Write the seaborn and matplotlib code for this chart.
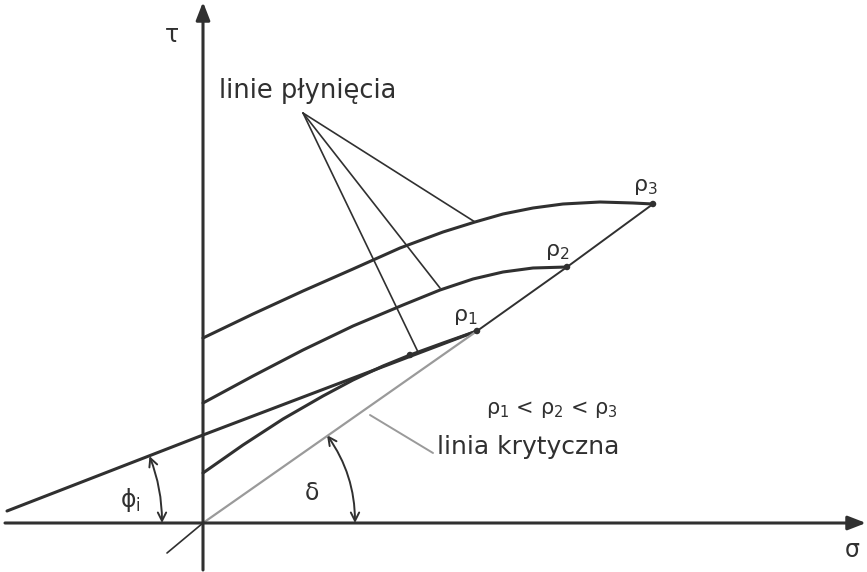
import numpy as np
import pandas as pd
import matplotlib
matplotlib.use("Agg")
import matplotlib.pyplot as plt
from matplotlib.patches import FancyArrowPatch
import seaborn as sns

# Yield loci (sigma, tau) for three bulk densities rho1 < rho2 < rho3
rho1_sigma = [0, 40, 80, 120, 150, 180, 207, 240, 274]
rho1_tau = [50, 78, 104, 127, 143, 157, 168, 180, 192]
rho2_sigma = [0, 50, 100, 150, 200, 237, 270, 300, 330, 364]
rho2_tau = [120, 147, 173, 197, 218, 233, 244, 251, 255, 256]
rho3_sigma = [0, 50, 100, 150, 197, 240, 272, 300, 330, 360, 397, 430, 450]
rho3_tau = [185, 209, 232, 254, 275, 291, 301, 309, 315, 319, 321, 320, 319]

# Effective yield locus (straight line, angle phi_i)
eff_sigma = [-196, 0, 274]
eff_tau = [12, 88, 192]

# End points of the loci lying on the critical line
end_sigma = [274, 364, 450]
end_tau = [192, 256, 319]
tangent_sigma = [207]
tangent_tau = [168]

# Labels
rho_labels = ["ρ$_\\mathregular{1}$", "ρ$_\\mathregular{2}$", "ρ$_\\mathregular{3}$"]
yield_label = "linie płynięcia"
critical_label = "linia krytyczna"
order_label = "ρ$_\\mathregular{1}$ < ρ$_\\mathregular{2}$ < ρ$_\\mathregular{3}$"

sns.set_theme(style="white")
plt.rcParams["font.family"] = ["DejaVu Sans"]

DARK = "#303030"
GREY = "#9a9a9a"

fig = plt.figure(figsize=(8.67, 5.72), dpi=100)
ax = fig.add_axes([0, 0, 1, 1])
ax.set_xlim(-203, 664)
ax.set_ylim(-49, 523)
ax.set_aspect("equal")
ax.axis("off")

frames = []
for name, s, t in [("rho1", rho1_sigma, rho1_tau),
                   ("rho2", rho2_sigma, rho2_tau),
                   ("rho3", rho3_sigma, rho3_tau),
                   ("eff", eff_sigma, eff_tau)]:
    frames.append(pd.DataFrame({"sigma": s, "tau": t, "locus": name}))
loci = pd.concat(frames, ignore_index=True)

sns.lineplot(data=loci, x="sigma", y="tau", units="locus", estimator=None,
             sort=False, color=DARK, lw=2.2, ax=ax,
             solid_capstyle="round", solid_joinstyle="round")

# Critical line: grey from origin to rho1, dark between the end points
crit = pd.DataFrame({"sigma": [0] + end_sigma, "tau": [0] + end_tau})
sns.lineplot(data=crit.iloc[:2], x="sigma", y="tau", sort=False,
             color=GREY, lw=1.6, ax=ax)
sns.lineplot(data=crit.iloc[1:], x="sigma", y="tau", sort=False,
             color=DARK, lw=1.4, ax=ax)
sns.scatterplot(x=end_sigma + tangent_sigma, y=end_tau + tangent_tau,
                color=DARK, s=22, ax=ax, zorder=5, edgecolor="none")

# Axes with arrows
ax.annotate("", xy=(663, 0), xytext=(-198, 0),
            arrowprops=dict(arrowstyle="-|>,head_length=0.9,head_width=0.35",
                            color=DARK, lw=2.2, shrinkA=0, shrinkB=0))
ax.annotate("", xy=(0, 521), xytext=(0, -47),
            arrowprops=dict(arrowstyle="-|>,head_length=0.9,head_width=0.35",
                            color=DARK, lw=2.2, shrinkA=0, shrinkB=0))
ax.plot([-36, 0], [-30, 0], color=DARK, lw=1.2)

ax.text(-31, 488, "τ", fontsize=17, color=DARK, ha="center", va="center")
ax.text(649, -27, "σ", fontsize=17, color=DARK, ha="center", va="center")

# Angle arcs
def angle_arc(center, radius, theta_deg):
    th = np.deg2rad(theta_deg)
    a = (center[0] + radius, center[1])
    b = (center[0] + radius * np.cos(th), center[1] + radius * np.sin(th))
    rad = np.tan(th / 2) / 2
    arc = FancyArrowPatch(a, b, connectionstyle=f"arc3,rad={rad}",
                          arrowstyle="<->,head_length=6,head_width=3",
                          color=DARK, lw=1.4, shrinkA=0, shrinkB=0)
    ax.add_patch(arc)

delta = np.degrees(np.arctan2(end_tau[-1], end_sigma[-1]))
angle_arc((0, 0), 152, delta)
phi = np.degrees(np.arctan2(eff_tau[1] - eff_tau[0], eff_sigma[1] - eff_sigma[0]))
angle_arc((-226, 0), 185, phi)

ax.text(109, 30, "δ", fontsize=17, color=DARK, ha="center", va="center")
ax.text(-73, 23, "ϕ$_\\mathregular{i}$", fontsize=17, color=DARK,
        ha="center", va="center")

# Leader lines for the yield loci
ax.text(105, 432, yield_label, fontsize=18.5, color=DARK, ha="center", va="center")
for s, t in [(272, 301), (237, 235), (215, 171)]:
    ax.plot([100, s], [410, t], color=DARK, lw=1.2)

# Critical line label
ax.plot([167, 230], [108, 70], color=GREY, lw=1.4)
ax.text(325, 76, critical_label, fontsize=18, color=DARK, ha="center", va="center")
ax.text(349, 113, order_label, fontsize=15, color=DARK, ha="center", va="center")

for lbl, (s, t) in zip(rho_labels, [(262, 206), (354, 271), (442, 336)]):
    ax.text(s, t, lbl, fontsize=16, color=DARK, ha="center", va="center")

fig.savefig("out.png", dpi=100, facecolor="white")
